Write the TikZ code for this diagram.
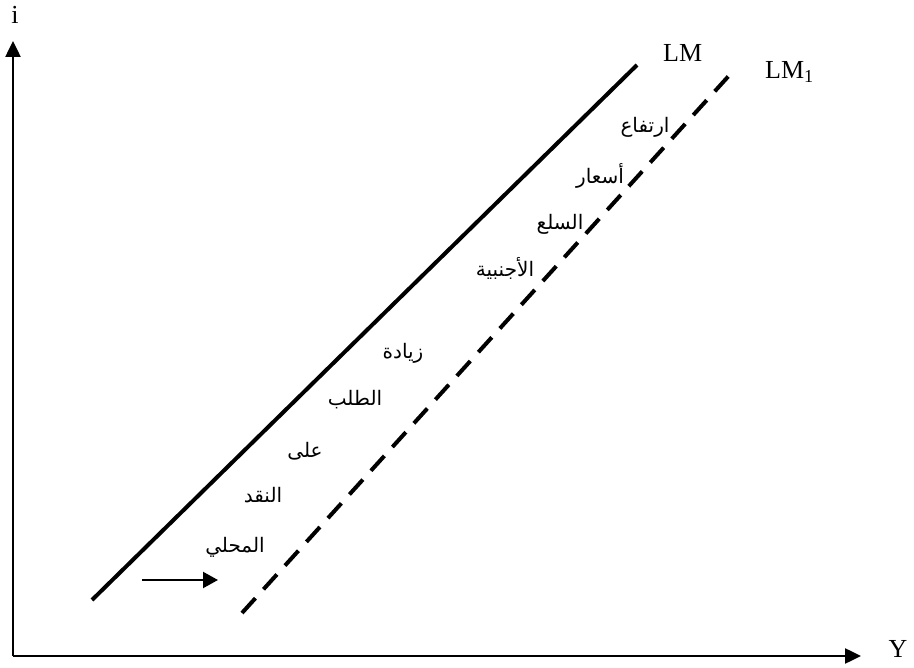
\documentclass[tikz,border=0pt]{standalone}
\usepackage{fontspec}
\setmainfont{Liberation Serif}
\newfontfamily\arabicfont[Script=Arabic]{DejaVu Sans}
\TeXXeTstate=1
\usetikzlibrary{arrows.meta}
\tikzset{
  axis/.style={line width=2.5pt,-{Triangle[length=16pt,width=15pt]}},
  lmline/.style={line width=4pt},
  lmdash/.style={line width=4pt,dash pattern=on 20pt off 12pt},
  shiftarrow/.style={line width=2.2pt,-{Triangle[length=15pt,width=16pt]}},
  lab/.style={font=\fontsize{26}{30}\selectfont,inner sep=0pt},
  ar/.style={font=\fontsize{20}{24}\selectfont\arabicfont,inner sep=0pt}
}
\begin{document}
\begin{tikzpicture}[x=1pt,y=-1pt]
\useasboundingbox (0,0) rectangle (914,668);
\coordinate (o) at (13,656);
\coordinate (ytop) at (13,41);
\coordinate (xend) at (861,656);
\draw[axis] (o) -- (ytop);
\draw[axis] (o) -- (xend);
\node[lab] (i) at (15,15) {i};
\node[lab] (Y) at (898,649) {Y};
\coordinate (lma) at (92,600);
\coordinate (lmb) at (637,65);
\draw[lmline] (lma) -- (lmb);
\coordinate (lm1a) at (242,613);
\coordinate (lm1b) at (735,69);
\draw[lmdash] (lm1a) -- (lm1b);
\node[lab,anchor=west] (LM) at (663,53) {LM};
\node[lab,anchor=west] (LM1) at (765,72) {LM\textsubscript{1}};
\coordinate (sa) at (142,580);
\coordinate (sb) at (218,580);
\draw[shiftarrow] (sa) -- (sb);
\node[ar] (w1) at (645,127) {\beginR ارتفاع\endR};
\node[ar] (w2) at (600,176) {\beginR أسعار\endR};
\node[ar] (w3) at (560,224) {\beginR السلع\endR};
\node[ar] (w4) at (505,268) {\beginR الأجنبية\endR};
\node[ar] (w5) at (403,353) {\beginR زيادة\endR};
\node[ar] (w6) at (355,400) {\beginR الطلب\endR};
\node[ar] (w7) at (305,451) {\beginR على\endR};
\node[ar] (w8) at (263,495) {\beginR النقد\endR};
\node[ar] (w9) at (235,547) {\beginR المحلي\endR};
\end{tikzpicture}
\end{document}
